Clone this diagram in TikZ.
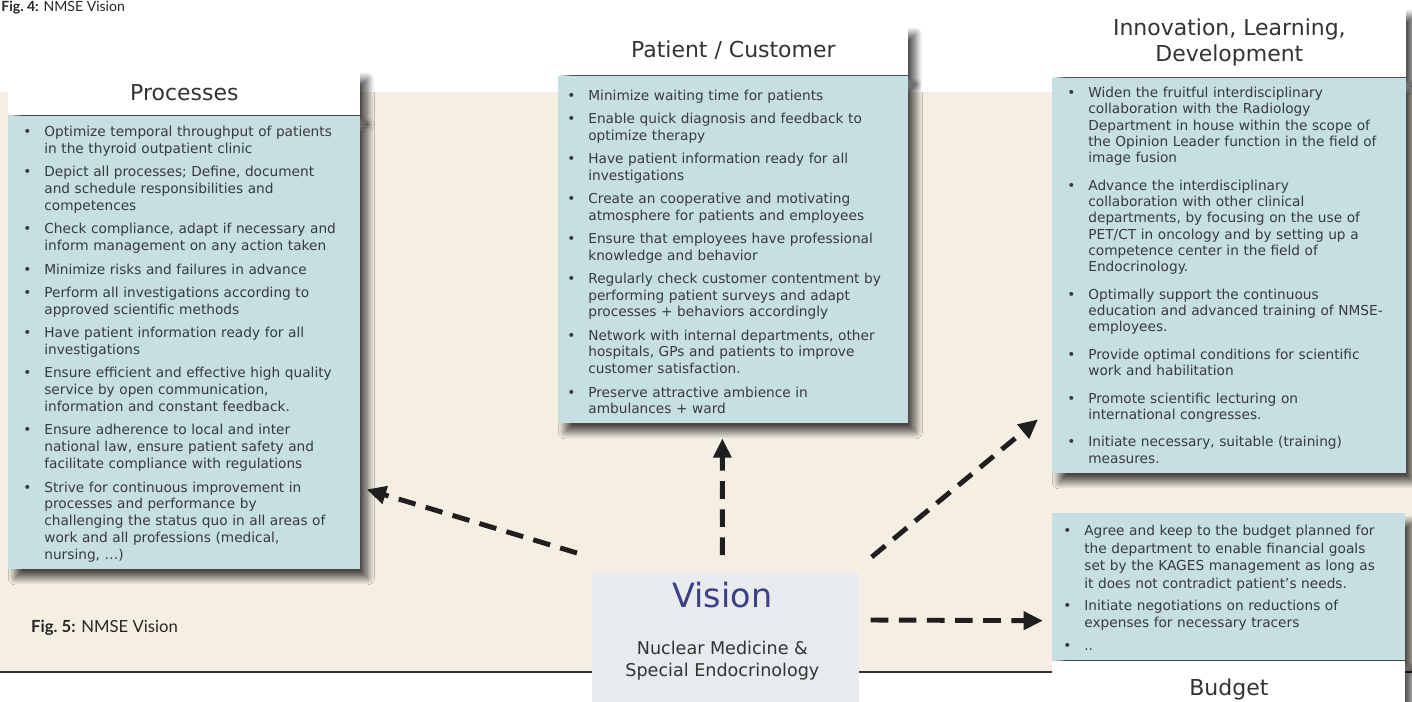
\documentclass[tikz,border=0pt]{standalone}
\usepackage{fontspec}
\setmainfont{DejaVu Sans}
\newfontfamily\capfont{Lato}
\usepackage{tikz}
\usetikzlibrary{positioning,arrows.meta,calc,shadows.blur}
\definecolor{paper}{HTML}{F5EFE3}
\definecolor{panelblue}{HTML}{C5DFE3}
\definecolor{visionfill}{HTML}{E7EBEE}
\definecolor{visionink}{HTML}{3C3E88}
\definecolor{titleink}{HTML}{333333}
\definecolor{bodyink}{HTML}{3A3A3A}

% bullet list used inside the panels, arg = gap between items
\newenvironment{points}[1]{%
  \begin{list}{\textbullet}{%
    \setlength{\leftmargin}{0.42cm}%
    \setlength{\labelwidth}{0.42cm}%
    \setlength{\labelsep}{0pt}%
    \setlength{\itemsep}{#1}%
    \setlength{\parsep}{0pt}%
    \setlength{\topsep}{0pt}%
    \setlength{\partopsep}{0pt}%
    \setlength{\itemindent}{0pt}%
    \renewcommand{\makelabel}[1]{##1\hfil}}}%
  {\end{list}}

\begin{document}
\begin{tikzpicture}[
  font=\fontsize{7.8}{9.6}\selectfont,
  shade/.style={blur shadow={shadow xshift=4pt, shadow yshift=-5pt,
                shadow blur radius=4pt, shadow blur steps=16, shadow opacity=70}},
  head/.style={shade, fill=white, anchor=north west, inner sep=0pt,
               align=center, text=titleink, font=\fontsize{12.5}{14.5}\selectfont},
  panel/.style={shade, fill=panelblue, anchor=north west, inner sep=0pt},
  items/.style={anchor=north west, inner sep=0pt, align=left, text=bodyink},
  link/.style={-{Triangle[length=11pt,width=10pt]}, line width=2.8pt,
               dash pattern=on 10pt off 6pt, draw=black!88},
]
\useasboundingbox (0,0) rectangle (28.24,14.02);

% page band and rule
\fill[paper] (0,0.58) rectangle (28.24,12.18);
\draw[line width=0.8pt, black!80] (0,0.58) -- (28.24,0.58);

\node[font=\capfont\fontsize{8}{9}\selectfont, anchor=north west, text=black!85, inner sep=0pt]
  (figtop) at (0.02,14.0) {\textbf{Fig.~4:} NMSE Vision};
\node[font=\capfont\fontsize{9.5}{11}\selectfont, anchor=base west, text=black!85]
  (figcap) at (0.5,1.38) {\textbf{Fig.~5:} NMSE Vision};

% processes
\node[head, minimum width=7.04cm, minimum height=0.9cm] (proct) at (0.16,12.62) {Processes};
\node[panel, minimum width=7.04cm, minimum height=9.06cm] (procb) at (proct.south west) {};
\node[items, text width=6.6cm, font=\fontsize{7.8}{9.6}\selectfont] (procl)
  at ($(procb.north west)+(0.3,-0.07)$) {\begin{points}{3.7pt}
  \item Optimize temporal throughput of patients\\ in the thyroid outpatient clinic
  \item Depict all processes; Define, document\\ and schedule responsibilities and\\ competences
  \item Check compliance, adapt if necessary and\\ inform management on any action taken
  \item Minimize risks and failures in advance
  \item Perform all investigations according to\\ approved scientific methods
  \item Have patient information ready for all\\ investigations
  \item Ensure efficient and effective high quality\\ service by open communication,\\ information and constant feedback.
  \item Ensure adherence to local and inter\\ national law, ensure patient safety and\\ facilitate compliance with regulations
  \item Strive for continuous improvement in\\ processes and performance by\\ challenging the status quo in all areas of\\ work and all professions (medical,\\ nursing, \dots)
  \end{points}};

% patient / customer
\node[head, minimum width=7.0cm, minimum height=1.0cm] (patt) at (11.16,13.52) {Patient / Customer};
\node[panel, minimum width=7.0cm, minimum height=6.94cm] (patb) at (patt.south west) {};
\node[items, text width=6.7cm, font=\fontsize{7.8}{9.4}\selectfont] (patl)
  at ($(patb.north west)+(0.18,-0.15)$) {\begin{points}{4pt}
  \item Minimize waiting time for patients
  \item Enable quick diagnosis and feedback to\\ optimize therapy
  \item Have patient information ready for all\\ investigations
  \item Create an cooperative and motivating\\ atmosphere for patients and employees
  \item Ensure that employees have professional\\ knowledge and behavior
  \item Regularly check customer contentment by\\ performing patient surveys and adapt\\ processes + behaviors accordingly
  \item Network with internal departments, other\\ hospitals, GPs and patients to improve\\ customer satisfaction.
  \item Preserve attractive ambience in\\ ambulances + ward
  \end{points}};

% innovation, learning, development
\node[head, minimum width=7.08cm, minimum height=1.4cm] (innt) at (21.04,13.88)
  {Innovation, Learning,\\ Development};
\node[panel, minimum width=7.08cm, minimum height=7.9cm] (innb) at (innt.south west) {};
\node[items, text width=6.7cm, font=\fontsize{7.8}{9.3}\selectfont] (innl)
  at ($(innb.north west)+(0.3,-0.06)$) {\begin{points}{6.3pt}
  \item Widen the fruitful interdisciplinary\\ collaboration with the Radiology\\ Department in house within the scope of\\ the Opinion Leader function in the field of\\ image fusion
  \item Advance the interdisciplinary\\ collaboration with other clinical\\ departments, by focusing on the use of\\ PET/CT in oncology and by setting up a\\ competence center in the field of\\ Endocrinology.
  \item Optimally support the continuous\\ education and advanced training of NMSE-\\ employees.
  \item Provide optimal conditions for scientific\\ work and habilitation
  \item Promote scientific lecturing on\\ international congresses.
  \item Initiate necessary, suitable (training)\\ measures.
  \end{points}};

% budget, title below the list
\node[panel, minimum width=7.06cm, minimum height=2.94cm] (budb) at (21.04,3.76) {};
\node[head, minimum width=7.06cm, minimum height=1.12cm] (budt) at (budb.south west) {Budget};
\node[items, text width=6.7cm, font=\fontsize{7.8}{10}\selectfont] (budl)
  at ($(budb.north west)+(0.22,-0.09)$) {\begin{points}{2.6pt}
  \item Agree and keep to the budget planned for\\ the department to enable financial goals\\ set by the KAGES management as long as\\ it does not contradict patient's needs.
  \item Initiate negotiations on reductions of\\ expenses for necessary tracers
  \item ..
  \end{points}};

% vision
\node[fill=visionfill, anchor=north west, inner sep=0pt, minimum width=5.34cm,
  minimum height=2.9cm] (vision) at (11.84,2.56) {};
\node[font=\fontsize{19}{22}\selectfont, text=visionink] (visiont)
  at ($(vision.north)+(-0.07,-0.44)$) {Vision};
\node[font=\fontsize{10}{12.5}\selectfont, text=titleink, align=center] (visions)
  at ($(vision.north)+(-0.07,-1.76)$) {Nuclear Medicine \&\\ Special Endocrinology};

% arrow ends
\coordinate (v1) at ($(vision.north west)+(-0.30,0.40)$);
\coordinate (v2) at ($(vision.north)+(-0.07,0.36)$);
\coordinate (v3) at ($(vision.north east)+(0.24,0.32)$);
\coordinate (v4) at ($(vision.north east)+(0.22,-0.94)$);
\coordinate (p1) at ($(procb.south east)+(0.12,1.60)$);
\coordinate (c1) at ($(patb.south)+(-0.22,-0.30)$);
\coordinate (i1) at ($(innb.south west)+(-0.28,1.08)$);
\coordinate (b1) at ($(budb.south west)+(-0.18,0.80)$);

\foreach \a/\b in {v1/p1, v2/c1, v3/i1, v4/b1} { \draw[link] (\a) -- (\b); }
\end{tikzpicture}
\end{document}
